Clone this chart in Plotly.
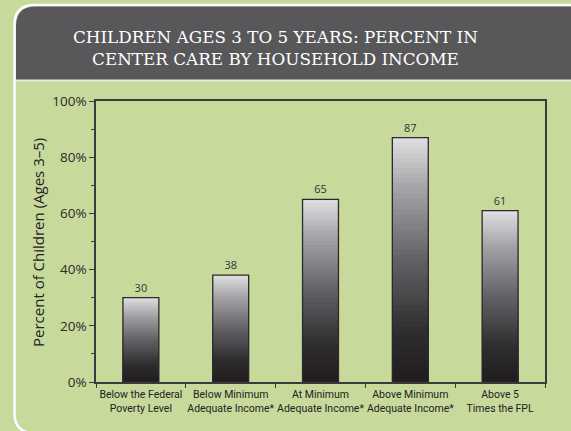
import plotly.graph_objects as go

# Data
categories = [
    "Below the Federal<br>Poverty Level",
    "Below Minimum<br>Adequate Income*",
    "At Minimum<br>Adequate Income*",
    "Above Minimum<br>Adequate Income*",
    "Above 5<br>Times the FPL",
]
percent_center_care = [30, 38, 65, 87, 61]
y_tick_values = [0, 20, 40, 60, 80, 100]
y_tick_labels = ["0%", "20%", "40%", "60%", "80%", "100%"]

title_lines = [
    "CHILDREN AGES 3 TO 5 YEARS: PERCENT IN",
    "CENTER CARE BY HOUSEHOLD INCOME",
]
y_title = "Percent of Children (Ages 3\u20135)"

# Canvas and plot-area geometry (pixels)
W, H = 571, 431
L, R, T, B = 96, 26, 101, 49
PW, PH = W - L - R, H - T - B

BG = "#c8d99c"
BANNER = "#58585a"
INK = "#333333"
BAR_WIDTH = 0.4


def px(x):
    return (x - L) / PW


def py(y):
    return (H - B - y) / PH


def path(points):
    out = []
    for cmd, *xy in points:
        coords = []
        for i in range(0, len(xy), 2):
            coords.append(f"{px(xy[i]):.5f},{py(xy[i + 1]):.5f}")
        out.append(cmd + " ".join(coords))
    return " ".join(out)


# vertical shading of each bar: dark at the base, pale at the top
stops = [
    (0.0, (0x21, 0x1d, 0x1e)),
    (0.2, (0x2e, 0x2c, 0x2d)),
    (0.5, (0x62, 0x62, 0x66)),
    (0.8, (0xa6, 0xa6, 0xaa)),
    (1.0, (0xe0, 0xe0, 0xe2)),
]


def shade(t):
    for (t0, c0), (t1, c1) in zip(stops, stops[1:]):
        if t <= t1:
            f = (t - t0) / (t1 - t0)
            r, g, b = (round(a + (b_ - a) * f) for a, b_ in zip(c0, c1))
            return f"rgb({r},{g},{b})"
    r, g, b = stops[-1][1]
    return f"rgb({r},{g},{b})"


x_pos = list(range(len(categories)))
N_BANDS = 48

fig = go.Figure()

# overlaid bars from the base, each shorter one darker, give a stepped gradient
for j in range(N_BANDS, 0, -1):
    frac = j / N_BANDS
    fig.add_trace(
        go.Bar(
            x=x_pos,
            y=[v * frac for v in percent_center_care],
            width=BAR_WIDTH,
            marker=dict(color=shade((j - 0.5) / N_BANDS), line=dict(width=0)),
            hoverinfo="skip",
            showlegend=False,
        )
    )

# outline and value labels
fig.add_trace(
    go.Bar(
        x=x_pos,
        y=percent_center_care,
        width=BAR_WIDTH,
        marker=dict(color="rgba(0,0,0,0)", line=dict(color="#2a2a2a", width=1.3)),
        text=[str(v) for v in percent_center_care],
        textposition="outside",
        textfont=dict(family="Open Sans", size=11, color=INK),
        cliponaxis=False,
        showlegend=False,
        hovertemplate="%{y}%<extra></extra>",
    )
)

shapes = [
    # white panel outline
    dict(
        type="path",
        xref="paper",
        yref="paper",
        path=path([
            ("M", 580, 5),
            ("L", 34.5, 5),
            ("Q", 14.5, 5, 14.5, 25),
            ("L", 14.5, 413),
            ("Q", 14.5, 433, 34.5, 433),
            ("L", 580, 433),
        ]),
        line=dict(color="white", width=2.5),
        layer="below",
    ),
    # dark title banner
    dict(
        type="path",
        xref="paper",
        yref="paper",
        path=path([
            ("M", 16, 80),
            ("L", 16, 26),
            ("Q", 16, 6.5, 35.5, 6.5),
            ("L", 580, 6.5),
            ("L", 580, 80),
            ("Z",),
        ]),
        fillcolor=BANNER,
        line=dict(width=0),
        layer="below",
    ),
    # light rule under the banner
    dict(
        type="line",
        xref="paper",
        yref="paper",
        x0=px(16), x1=px(580), y0=py(80.5), y1=py(80.5),
        line=dict(color="#e4e6e0", width=2),
        layer="below",
    ),
]

annotations = [
    dict(
        text="<br>".join(title_lines),
        x=px(275), y=py(48),
        xref="paper", yref="paper",
        showarrow=False, xanchor="center", yanchor="middle",
        font=dict(family="DejaVu Serif", size=16.8, color="white"),
    ),
    dict(
        text=y_title,
        x=px(38), y=py(243),
        xref="paper", yref="paper",
        showarrow=False, xanchor="center", yanchor="middle",
        textangle=-90,
        font=dict(family="Open Sans", size=15, color="#222222"),
    ),
]

fig.update_layout(
    width=W,
    height=H,
    margin=dict(l=L, r=R, t=T, b=B, pad=0, autoexpand=False),
    paper_bgcolor=BG,
    plot_bgcolor=BG,
    barmode="overlay",
    shapes=shapes,
    annotations=annotations,
    showlegend=False,
    xaxis=dict(
        range=[-0.5, 4.5],
        tickvals=x_pos,
        ticktext=categories,
        tickangle=0,
        automargin=False,
        ticks="",
        ticklabelstandoff=2,
        showgrid=False,
        zeroline=False,
        showline=True,
        mirror=True,
        linecolor="#3a3a3a",
        linewidth=1.5,
        tickfont=dict(family="Roboto", size=10.5, color="#222222"),
        minor=dict(tick0=0.5, dtick=1, ticks="outside", ticklen=4, tickcolor="#3a3a3a", tickwidth=1, showgrid=False),
        fixedrange=True,
    ),
    yaxis=dict(
        range=[0, 100],
        tickvals=y_tick_values,
        ticktext=y_tick_labels,
        automargin=False,
        ticks="outside",
        ticklen=5,
        tickcolor="#3a3a3a",
        tickwidth=1,
        showgrid=False,
        zeroline=False,
        showline=True,
        mirror=True,
        linecolor="#3a3a3a",
        linewidth=1.5,
        tickfont=dict(family="Open Sans", size=13.5, color="#2a2a2a"),
        minor=dict(dtick=10, ticks="outside", ticklen=3, tickcolor="#3a3a3a", tickwidth=1, showgrid=False),
        fixedrange=True,
    ),
)

fig.write_html("out.html")
